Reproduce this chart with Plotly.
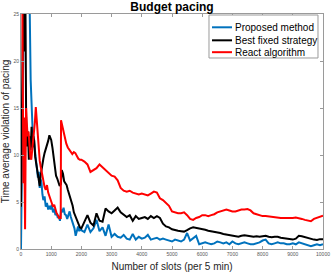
import plotly.graph_objects as go

# ---- data ----
late_x = list(range(2000, 10001, 100))

blue_early_x = [0, 10, 40, 80, 120, 180, 240, 290, 320, 350, 380, 410, 440, 470, 500, 530, 560, 590,
                620, 650, 680, 710, 740, 780, 820, 860, 900, 940, 980, 1020, 1060, 1100, 1140, 1180,
                1220, 1260, 1290, 1330, 1370, 1410, 1450, 1490, 1530, 1570, 1610, 1650, 1690, 1730,
                1770, 1810, 1850, 1890, 1930, 1970]
blue_early_y = [0, 5, 12, 22, 30, 32, 29, 25, 18, 14, 13, 12, 11, 10.8, 9.5, 8.8, 7.6, 8.2,
                6.5, 7.4, 7.0, 5.8, 5.2, 5.6, 4.5, 4.9, 4.2, 4.6, 4.2, 4.7, 3.9, 4.3, 3.6, 3.8,
                3.3, 3.5, 3.0, 4.2, 3.9, 4.4, 3.7, 3.6, 3.2, 3.6, 4.0, 3.4, 3.0, 2.7,
                2.2, 1.4, 1.8, 2.4, 1.9, 2.2]
blue_late_y = [2.0, 1.8, 2.6, 1.8, 2.2, 3.1, 1.9, 2.3, 1.4, 2.6, 1.3, 1.6, 1.3, 1.2, 1.5, 1.1, 1.0,
               1.6, 1.0, 1.3, 1.1, 1.2, 1.5, 1.0, 1.1, 1.2, 1.0, 1.1, 1.0, 0.9, 0.8, 1.0, 0.9, 0.8,
               1.0, 1.7, 0.9, 1.2, 1.4, 0.5, 0.6, 0.7, 0.6, 0.5, 0.6, 0.8, 0.7, 0.6, 0.7, 0.5, 0.8,
               0.6, 0.5, 0.6, 0.7, 0.6, 0.5, 0.5, 0.6, 0.7, 0.9, 1.0, 0.6, 0.5, 0.6, 0.7, 0.6, 0.6,
               0.5, 0.5, 0.6, 0.5, 0.7, 0.6, 0.5, 0.4, 0.3, 0.4, 0.5, 0.4, 0.5]

black_early_x = [0, 20, 50, 80, 110, 140, 170, 200, 230, 260, 290, 320, 350, 380, 410, 440, 470, 500,
                 530, 560, 590, 620, 650, 680, 710, 740, 780, 820, 860, 900, 940, 970, 1000, 1040,
                 1080, 1120, 1160, 1200, 1240, 1280, 1320, 1350, 1390, 1430, 1470, 1510, 1550, 1590,
                 1630, 1670, 1710, 1750, 1790, 1830, 1870, 1910, 1950]
black_early_y = [4.5, 12, 28, 30, 21, 30, 14, 10.9, 12.5, 9.5, 12, 10.5, 13, 10.8, 12, 11.5, 9.8, 9.1,
                 8.5, 8.1, 7.2, 6.7, 7.8, 8.5, 9.3, 9.6, 10.2, 10.6, 11.0, 11.5, 12.1, 11.8, 11.6, 10.8,
                 9.6, 8.8, 7.8, 7.5, 7.0, 6.7, 6.9, 8.4, 8.0, 7.2, 7.0, 6.8, 6.3, 5.9,
                 5.5, 5.2, 4.6, 3.9, 3.6, 3.2, 3.0, 2.7, 2.3]
black_late_y = [2.2, 3.0, 3.6, 2.8, 2.5, 3.8, 3.0, 2.9, 4.3, 4.0, 3.8, 4.1, 4.4, 3.9, 3.6, 3.4, 3.6,
                3.0, 3.5, 3.2, 3.3, 3.4, 3.2, 3.5, 3.3, 3.5, 3.3, 2.7, 2.4, 2.3, 2.1, 2.0, 1.95, 1.9,
                1.85, 2.0, 2.2, 2.3, 2.25, 2.2, 2.1, 2.05, 1.95, 1.9, 1.8, 1.75, 1.7, 1.6, 1.55, 1.5,
                1.45, 1.35, 1.3, 1.4, 1.45, 1.4, 1.35, 1.3, 1.35, 1.3, 1.35, 1.4, 1.3, 1.25, 1.3, 1.3,
                1.2, 1.15, 1.1, 1.05, 1.0, 1.1, 1.4, 1.35, 1.25, 1.15, 1.1, 1.0, 0.95, 1.05, 1.05]

red_early_x = [0, 20, 40, 60, 80, 100, 120, 135, 150, 170, 190, 220, 250, 280, 310, 340, 370, 400,
               430, 460, 490, 510, 530, 560, 590, 620, 650, 680, 710, 740, 780, 820, 860, 900, 940,
               980, 1020, 1060, 1100, 1140, 1180, 1220, 1260, 1300, 1315, 1325, 1350, 1400, 1450,
               1500, 1550, 1600, 1650, 1700, 1750, 1800, 1850, 1900, 1950]
red_early_y = [30, 26, 30, 18, 7, 14, 4, 2.1, 9, 15, 13.5, 12, 12.5, 10.5, 9.8, 9.5, 10.5, 11.3,
               12.2, 13.5, 15.1, 14.2, 12.5, 11.5, 10.8, 9.4, 8.8, 8.2, 7.6, 7.0, 6.6, 6.3, 6.8, 6.0, 5.6,
               5.2, 5.0, 4.5, 4.7, 4.2, 3.8, 3.6, 3.3, 3.4, 3.2, 13.7, 13.3, 12.6, 12.0,
               11.2, 10.8, 10.6, 10.4, 10.1, 10.3, 10.2, 9.9, 9.6, 9.5]
red_late_y = [9.5, 9.3, 9.0, 8.2, 8.4, 8.6, 9.0, 8.7, 8.5, 8.2, 7.8, 7.7, 7.3, 6.5, 6.2, 6.1, 6.2,
              6.0, 5.9, 5.8, 5.9, 5.8, 5.7, 5.9, 6.1, 6.0, 5.4, 5.2, 4.9, 4.6, 4.0, 3.9, 3.8, 3.8,
              3.9, 3.6, 3.2, 3.1, 3.3, 3.4, 3.6, 3.6, 3.5, 3.6, 3.7, 3.9, 4.0, 4.1, 4.2, 4.1, 4.0,
              4.0, 4.1, 4.2, 4.2, 4.25, 4.1, 3.8, 3.7, 3.6, 3.5, 3.5, 3.45, 3.4, 3.4, 3.35, 3.3,
              3.3, 3.3, 3.25, 3.3, 3.35, 3.3, 3.2, 3.1, 3.0, 2.95, 3.2, 3.3, 3.4, 3.55]

names = ["Proposed method", "Best fixed strategy", "React algorithm"]
colors = ["#0072BD", "#000000", "#FF0000"]
x_ticks = list(range(0, 10001, 1000))
y_ticks = [0, 5, 10, 15, 20, 25]

series = [
    (blue_early_x + late_x, blue_early_y + blue_late_y),
    (black_early_x + late_x, black_early_y + black_late_y),
    (red_early_x + late_x, red_early_y + red_late_y),
]

FONT = "Liberation Sans"
fig = go.Figure()
for (xs, ys), name, col in zip(series, names, colors):
    fig.add_trace(go.Scatter(x=xs, y=ys, mode="lines", name=name, showlegend=False,
                             line=dict(color=col, width=2)))

axis_common = dict(showline=True, linecolor="#9a9a9a", linewidth=1, mirror="ticks",
                   ticks="inside", ticklen=3, tickcolor="#9a9a9a", showgrid=False,
                   zeroline=False, automargin=False,
                   tickfont=dict(family=FONT, size=5, color="#555555"),
                   title_font=dict(family=FONT, size=10, color="#262626"))

fig.update_xaxes(range=[0, 10000], tickvals=x_ticks, ticktext=[str(v) for v in x_ticks],
                 title_text="Number of slots (per 5 min)", title_standoff=6, **axis_common)
fig.update_yaxes(range=[0, 25], tickvals=y_ticks, ticktext=[str(v) for v in y_ticks],
                 title_text="Time average violation of pacing", title_standoff=3, **axis_common)

# legend drawn as a box with line samples (tight MATLAB-style spacing)
box = dict(x0=0.6225, x1=0.9834, y0=0.8128, y1=0.9957)
shapes = [dict(type="rect", xref="paper", yref="paper", line=dict(color="#9a9a9a", width=1),
               fillcolor="white", layer="above", **box)]
annotations = []
leg_y = [0.9434, 0.8880, 0.8375]
for name, col, ly in zip(names, colors, leg_y):
    shapes.append(dict(type="line", xref="paper", yref="paper", x0=0.6325, x1=0.6987,
                       y0=ly, y1=ly, line=dict(color=col, width=2), layer="above"))
    annotations.append(dict(xref="paper", yref="paper", x=0.7036, y=ly, xanchor="left",
                            yanchor="middle", text=name, showarrow=False,
                            font=dict(family=FONT, size=10, color="#000000")))

fig.update_layout(
    width=332, height=273,
    margin=dict(l=21, r=9, t=14, b=24),
    paper_bgcolor="white", plot_bgcolor="white",
    title=dict(text="<b>Budget pacing</b>", xref="paper", x=0.5, xanchor="center",
               yref="container", y=0.975, yanchor="middle",
               font=dict(family=FONT, size=12, color="#000000")),
    shapes=shapes, annotations=annotations,
    showlegend=False,
)

fig.write_html("out.html", config={"displayModeBar": False},
               post_script="document.body.style.margin='0';document.body.style.overflow='hidden';")
